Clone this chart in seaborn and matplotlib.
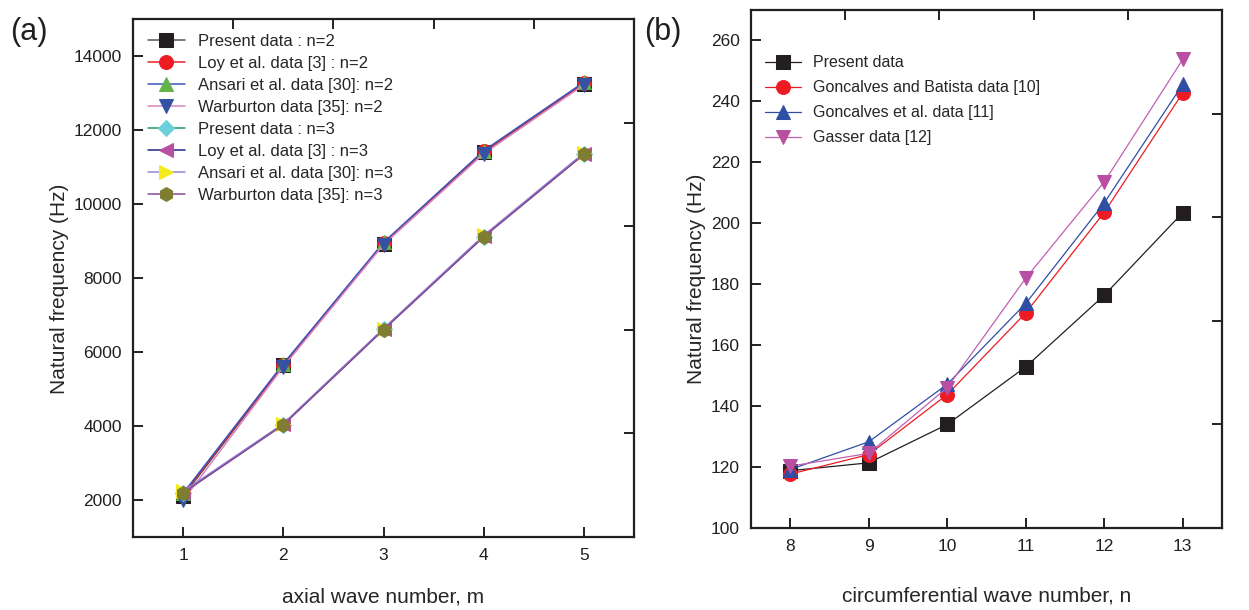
import matplotlib
matplotlib.use("Agg")
import matplotlib.pyplot as plt
import seaborn as sns
import pandas as pd

# --- panel (a) data -------------------------------------------------------
m_vals = [1, 2, 3, 4, 5]
present_n2 = [2100, 5640, 8930, 11400, 13250]
loy_n2 = [2150, 5650, 8940, 11420, 13270]
ansari_n2 = [2180, 5680, 8960, 11440, 13290]
warburton_n2 = [1990, 5600, 8900, 11360, 13220]
present_n3 = [2200, 4040, 6610, 9120, 11350]
loy_n3 = [2210, 4050, 6620, 9130, 11360]
ansari_n3 = [2230, 4060, 6630, 9150, 11380]
warburton_n3 = [2190, 4030, 6600, 9110, 11340]

# --- panel (b) data -------------------------------------------------------
n_vals = [8, 9, 10, 11, 12, 13]
present_b = [118.8, 121.4, 134.0, 152.9, 176.4, 203.5]
batista_b = [117.7, 124.1, 143.8, 170.6, 203.6, 242.8]
goncalves_b = [119.2, 128.3, 147.2, 173.7, 206.7, 245.6]
gasser_b = [120.3, 124.5, 146.1, 182.0, 213.6, 253.8]

sns.set_style("ticks")
plt.rcParams["font.family"] = ["Liberation Sans Narrow", "Liberation Sans", "DejaVu Sans"]

fig = plt.figure(figsize=(12.49, 6.10), dpi=100)
ax_a = fig.add_axes([0.1065, 0.1197, 0.4011, 0.8492])
ax_b = fig.add_axes([0.6013, 0.1344, 0.3771, 0.8492])

# (label, values, line colour, marker, marker colour)
series_a = [
    ("Present data : n=2", present_n2, "#555555", "s", "#231f20"),
    ("Loy et al. data [3] : n=2", loy_n2, "#ed1c24", "o", "#ed1c24"),
    ("Ansari et al. data [30]: n=2", ansari_n2, "#3a55c0", "^", "#62b446"),
    ("Warburton data [35]: n=2", warburton_n2, "#d985c0", "v", "#3451a3"),
    ("Present data : n=3", present_n3, "#1f9a5c", "D", "#6ccfdc"),
    ("Loy et al. data [3] : n=3", loy_n3, "#1f2383", "<", "#b84fa3"),
    ("Ansari et al. data [30]: n=3", ansari_n3, "#9486d6", ">", "#f4ec1a"),
    ("Warburton data [35]: n=3", warburton_n3, "#8a4a98", "h", "#7f7d32"),
]
for label, vals, lc, mk, mc in series_a:
    df = pd.DataFrame({"m": m_vals, "f": vals})
    ms = 8 if mk == "D" else 10
    sns.lineplot(data=df, x="m", y="f", ax=ax_a, color=lc, lw=1.1,
                 marker=mk, markersize=ms, markerfacecolor=mc,
                 markeredgecolor=mc, label=label)

series_b = [
    ("Present data", present_b, "#231f20", "s", "#231f20"),
    ("Goncalves and Batista data [10]", batista_b, "#ed1c24", "o", "#ed1c24"),
    ("Goncalves et al. data [11]", goncalves_b, "#2e4fa3", "^", "#2e4fa3"),
    ("Gasser data [12]", gasser_b, "#c060b4", "v", "#b84fa3"),
]
for label, vals, lc, mk, mc in series_b:
    df = pd.DataFrame({"n": n_vals, "f": vals})
    sns.lineplot(data=df, x="n", y="f", ax=ax_b, color=lc, lw=0.9,
                 marker=mk, markersize=10, markerfacecolor=mc,
                 markeredgecolor=mc, label=label)

ax_a.set_xlim(0.5, 5.5)
ax_a.set_ylim(1000, 15000)
ax_a.set_xticks(m_vals)
ax_a.set_yticks([2000, 4000, 6000, 8000, 10000, 12000, 14000])
ax_a.set_xlabel("axial wave number, m", fontsize=15)
ax_a.set_ylabel("Natural frequency (Hz)", fontsize=15)
ax_a.xaxis.set_label_coords(0.5, -0.097)
ax_a.yaxis.set_label_coords(-0.128, 0.48)

ax_b.set_xlim(7.5, 13.5)
ax_b.set_ylim(100, 270)
ax_b.set_xticks(n_vals)
ax_b.set_yticks(range(100, 261, 20))
ax_b.set_xlabel("circumferential wave number, n", fontsize=15)
ax_b.set_ylabel("Natural frequency (Hz)", fontsize=15)
ax_b.xaxis.set_label_coords(0.5, -0.112)
ax_b.yaxis.set_label_coords(-0.096, 0.482)

for ax in (ax_a, ax_b):
    for sp in ax.spines.values():
        sp.set_visible(True)
        sp.set_linewidth(1.6)
        sp.set_color("#231f20")
    ax.tick_params(direction="in", length=7, width=1.4, labelsize=12.5,
                   colors="#231f20", pad=8)
    # top/right frame ticks in Origin style: five even intervals
    frame = fig.add_axes(ax.get_position(), facecolor="none")
    frame.set_xlim(0, 1)
    frame.set_ylim(0, 1)
    frame.set_xticks([0.2, 0.4, 0.6, 0.8])
    frame.set_yticks([0.2, 0.4, 0.6, 0.8])
    frame.tick_params(direction="in", length=7, width=1.4, color="#231f20",
                      top=True, right=True, left=False, bottom=False,
                      labelleft=False, labelbottom=False,
                      labeltop=False, labelright=False)
    for sp in frame.spines.values():
        sp.set_visible(False)

ax_a.legend(loc="upper left", frameon=False, fontsize=12,
            handlelength=2.2, labelspacing=0.42,
            bbox_to_anchor=(0.0, 1.0), borderaxespad=0.5)
ax_b.legend(loc="upper left", frameon=False, fontsize=11.5,
            handlelength=2.2, labelspacing=0.62,
            bbox_to_anchor=(0.0, 0.94))

fig.text(0.008, 0.935, "(a)", fontsize=22, color="#231f20")
fig.text(0.516, 0.935, "(b)", fontsize=22, color="#231f20")

fig.savefig("out.png", dpi=100)
